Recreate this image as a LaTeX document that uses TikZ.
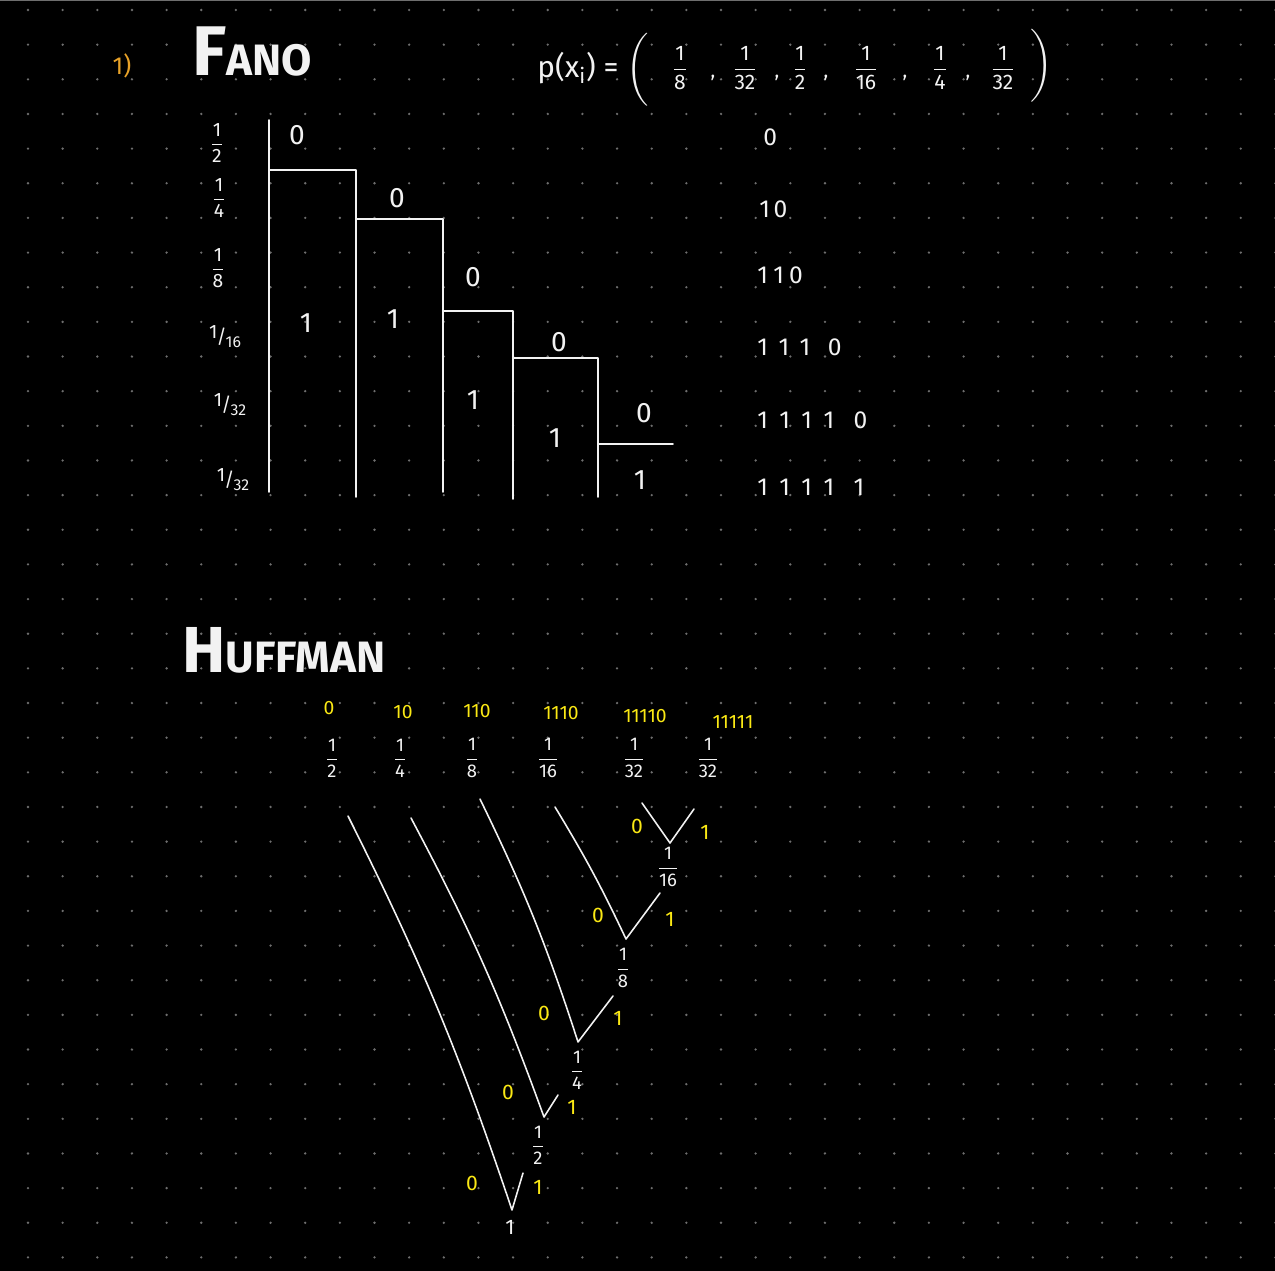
\documentclass[tikz,border=0pt]{standalone}
\usepackage{amsmath}
\usepackage{fontspec}
\setmainfont{Fira Sans}
\usepackage{tikz}
\usetikzlibrary{positioning}
\definecolor{hwyellow}{RGB}{250,232,20}
\definecolor{hworange}{RGB}{232,162,40}
\definecolor{hwdot}{RGB}{110,110,110}
\definecolor{hwwhite}{RGB}{242,242,242}
\newcommand{\hfr}[2]{\ensuremath{\dfrac{\text{#1}}{\text{#2}}}}
\newcommand{\sfr}[2]{\raisebox{0.5ex}{#1}\kern-0.5pt/\kern-0.5pt\raisebox{-0.4ex}{\fontsize{9}{9}\selectfont #2}}

\begin{document}
\begin{tikzpicture}[x=0.02cm, y=-0.02cm,
    ink/.style={draw=hwwhite, line width=1.1pt, line cap=round, line join=round},
    edge/.style={draw=hwwhite, line width=0.9pt, line cap=round, line join=round},
    bit/.style={text=hwwhite, font=\fontsize{16}{16}\selectfont, inner sep=0pt},
    prob/.style={text=hwwhite, font=\fontsize{11}{11}\selectfont, inner sep=0pt},
    word/.style={text=hwwhite, font=\fontsize{14}{14}\selectfont, inner sep=0pt},
    ycode/.style={text=hwyellow, font=\fontsize{11}{11}\selectfont, inner sep=0pt},
    ybit/.style={text=hwyellow, font=\fontsize{12}{12}\selectfont, inner sep=0pt},
    leaf/.style={text=hwwhite, font=\fontsize{10.5}{10.5}\selectfont, inner sep=0pt},
    title/.style={text=hwwhite, font=\bfseries, inner sep=0pt}
  ]
  \useasboundingbox (0,0) rectangle (1275,1271);
  \fill[black] (0,0) rectangle (1275,1271);
  \draw[hwdot, line width=1pt] (0,0.5) -- (1275,0.5);
  \foreach \i in {0,...,36}
    \foreach \j in {0,...,36}
      \fill[hwdot] (28+34.65*\i, 10+34.65*\j) circle (1.3);

  % Fano
  \node[text=hworange, font=\fontsize{14}{14}\selectfont, inner sep=0pt] (num) at (122,66) {1)};
  \node[title] (fano) at (252,52) {\fontsize{40}{40}\selectfont F\fontsize{25}{25}\selectfont ANO};
  \node[prob, anchor=west, font=\fontsize{17}{17}\selectfont] (px) at (537,70) {p(x\textsubscript{i}) = $\bigg($};
  \foreach \x/\n/\d [count=\i] in {680/1/8, 745/1/32, 800/1/2, 866/1/16, 940/1/4, 1003/1/32}
    \node[prob, font=\fontsize{12}{12}\selectfont] (pf\i) at (\x,68) {\hfr{\n}{\d}};
  \foreach \x [count=\i] in {713, 777, 826, 905, 968}
    \node[prob] (pc\i) at (\x,78) {,};
  \node[prob, font=\fontsize{17}{17}\selectfont] (pr) at (1042,66) {$\bigg)$};

  \draw[ink] (269,120) -- (269,492);
  \draw[ink] (269,170) -- (356,170) -- (356,497);
  \draw[ink] (356,219) -- (443,219) -- (443,492);
  \draw[ink] (443,311) -- (513,311) -- (513,499);
  \draw[ink] (513,358) -- (598,358) -- (598,497);
  \draw[ink] (598,444) -- (673,444);

  \node[prob] (q1) at (217,143) {\hfr{1}{2}};
  \node[prob] (q2) at (219,198) {\hfr{1}{4}};
  \node[prob] (q3) at (218,268) {\hfr{1}{8}};
  \node[prob] (q4) at (225,337) {\sfr{1}{16}};
  \node[prob] (q5) at (230,405) {\sfr{1}{32}};
  \node[prob] (q6) at (233,480) {\sfr{1}{32}};

  \node[bit] (z1) at (297,135) {0};
  \node[bit] (z2) at (397,198) {0};
  \node[bit] (z3) at (473,277) {0};
  \node[bit] (z4) at (559,342) {0};
  \node[bit] (z5) at (644,413) {0};
  \node[bit] (o1) at (306,323) {1};
  \node[bit] (o2) at (393,319) {1};
  \node[bit] (o3) at (473,400) {1};
  \node[bit] (o4) at (555,438) {1};
  \node[bit] (o5) at (640,480) {1};

  \node[word, anchor=west] (c1) at (763,137) {0};
  \node[word, anchor=west] (c2) at (759,209) {1\hspace{2pt}0};
  \node[word, anchor=west] (c3) at (757,275) {1\hspace{3pt}1\hspace{3pt}0};
  \node[word, anchor=west] (c4) at (757,347) {1\hspace{6pt}1\hspace{6pt}1\hspace{10pt}0};
  \node[word, anchor=west] (c5) at (757,420) {1\hspace{6.5pt}1\hspace{6.5pt}1\hspace{6.5pt}1\hspace{11pt}0};
  \node[word, anchor=west] (c6) at (757,487) {1\hspace{6.5pt}1\hspace{6.5pt}1\hspace{6.5pt}1\hspace{11pt}1};

  % Huffman
  \node[title] (huff) at (284,650) {\fontsize{37}{37}\selectfont H\fontsize{25}{25}\selectfont UFFMAN};

  \foreach \x/\y/\w [count=\i] in {329/708/0, 403/712/10, 477/711/110, 561/713/1110, 645/716/11110, 733/722/11111}
    \node[ycode] (w\i) at (\x,\y) {\w};
  \foreach \x/\d [count=\i] in {332/2, 400/4, 472/8, 548/16, 634/32, 708/32}
    \node[leaf] (l\i) at (\x,758) {\hfr{1}{\d}};

  \coordinate (s5) at (642,803); \coordinate (v5) at (670,843); \coordinate (a5) at (694,809);
  \coordinate (s4) at (555,807); \coordinate (v4) at (626,939); \coordinate (a4) at (660,893);
  \coordinate (s3) at (480,799); \coordinate (v3) at (578,1042); \coordinate (a3) at (613,996);
  \coordinate (s2) at (411,818); \coordinate (v2) at (544,1117); \coordinate (a2) at (558,1095);
  \coordinate (s1) at (348,816); \coordinate (v1) at (512,1210); \coordinate (a1) at (523,1173);

  \draw[edge] (s5) -- (v5) -- (a5);
  \draw[edge] (s4) to[bend left=3] (v4) -- (a4);
  \draw[edge] (s3) to[bend left=4] (v3) -- (a3);
  \draw[edge] (s2) to[bend left=4] (v2) -- (a2);
  \draw[edge] (s1) to[bend left=4] (v1) -- (a1);

  \node[leaf] (m5) at (668,867) {\hfr{1}{16}};
  \node[leaf] (m4) at (623,968) {\hfr{1}{8}};
  \node[leaf] (m3) at (577,1070) {\hfr{1}{4}};
  \node[leaf] (m2) at (538,1145) {\hfr{1}{2}};
  \node[leaf, font=\fontsize{12}{12}\selectfont] (m1) at (510,1227) {1};

  \node[ybit] (y05) at (637,826) {0};  \node[ybit] (y15) at (705,832) {1};
  \node[ybit] (y04) at (598,915) {0};  \node[ybit] (y14) at (670,919) {1};
  \node[ybit] (y03) at (544,1013) {0}; \node[ybit] (y13) at (618,1018) {1};
  \node[ybit] (y02) at (508,1092) {0}; \node[ybit] (y12) at (572,1107) {1};
  \node[ybit] (y01) at (472,1183) {0}; \node[ybit] (y11) at (538,1187) {1};
\end{tikzpicture}
\end{document}
